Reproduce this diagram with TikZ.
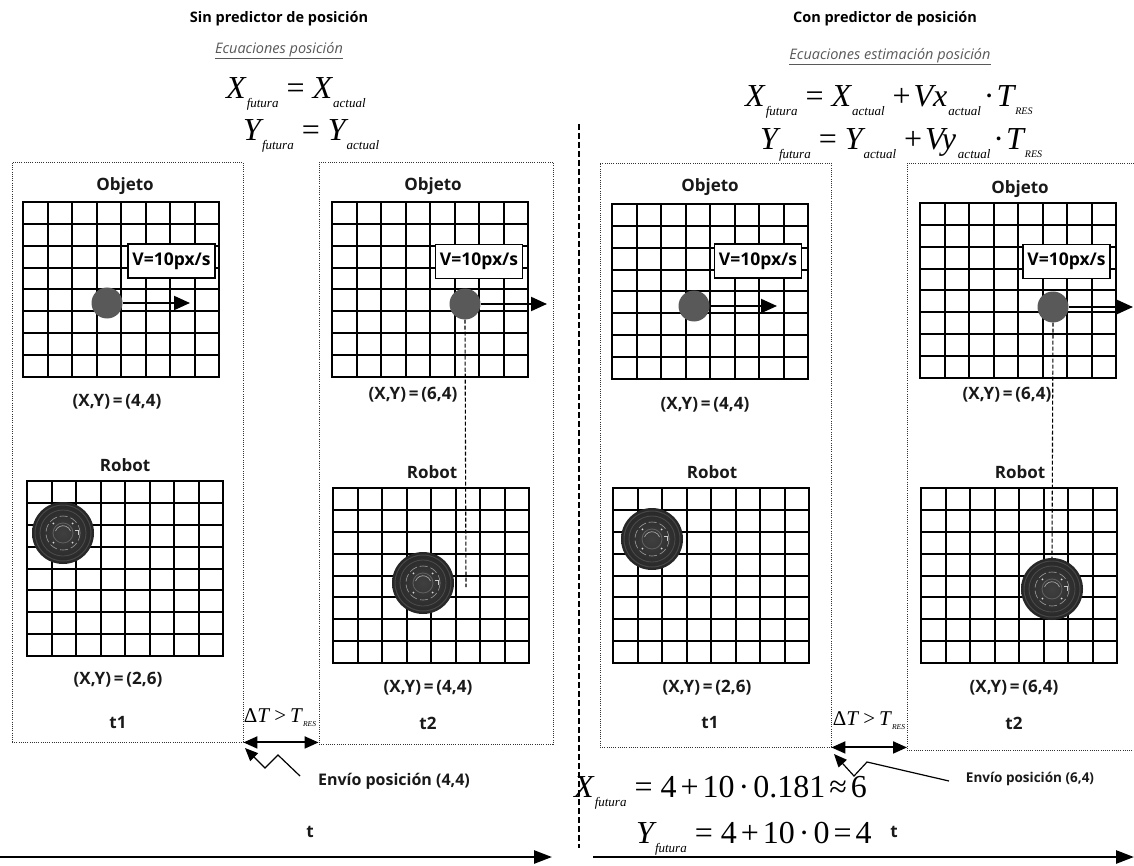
\documentclass[tikz,border=0pt]{standalone}
\usepackage{fontspec}
\setmainfont{Open Sans}
\newfontfamily\tnr{Liberation Serif}
\usetikzlibrary{arrows.meta,calc}

% equation pieces in a Times-like face
\newcommand\bv[1]{{\fontsize{32}{34}\selectfont\tnr\itshape #1}}
\newcommand\sv[1]{\hspace{1pt}\raisebox{-9pt}{\fontsize{13}{14}\selectfont\tnr\itshape #1}}
\newcommand\ov[1]{{\fontsize{32}{34}\selectfont\tnr #1}}
\newcommand\gap{\hspace{8pt}}
\newcommand\res{\hspace{1pt}\raisebox{-8pt}{\fontsize{10}{11}\selectfont\tnr\itshape RES}}
\newcommand\nsp{\hspace{4pt}}

% 8x8 grid; (x0,y0) is its top-left corner
\newcommand\cellgrid[2]{%
  \foreach \i in {1,...,7}{%
    \draw[gridline] ({#1+\i*24.5},#2) -- ++(0,175);
    \draw[gridline] (#1,{#2+\i*21.875}) -- ++(196,0);
  }%
  \draw[gridframe] (#1,#2) rectangle ++(196,175);
}

\tikzset{
  x=1pt, y=-1pt,
  gridline/.style={line width=2pt, black},
  gridframe/.style={line width=2.8pt, black},
  dotbox/.style={draw=black!80, line width=0.9pt, dash pattern=on 0.9pt off 1.3pt, rectangle, inner sep=0pt},
  lbl/.style={font=\fontsize{17}{19}\selectfont\bfseries, text=black!90, inner sep=1pt},
  title/.style={font=\fontsize{14.5}{17}\selectfont\bfseries, inner sep=1pt},
  subtitle/.style={font=\fontsize{14.5}{17}\selectfont\itshape, text=black!65, inner sep=1pt},
  vbox/.style={draw=black, line width=1.2pt, fill=white, minimum width=87pt, minimum height=34pt, inner sep=0pt, font=\fontsize{17.5}{19}\selectfont\bfseries},
  ball/.style={circle, fill=black!65, minimum size=31pt, inner sep=0pt},
  velarrow/.style={line width=2pt, -{Triangle[length=16pt,width=14pt]}},
  guide/.style={line width=1.1pt, dash pattern=on 4pt off 2pt},
  robotbody/.style={circle, minimum size=62pt, inner sep=0pt,
    shading=radial, inner color=black!75, outer color=black!85,
    path picture={
      \coordinate (pc) at (path picture bounding box.center);
      \draw[black!72, line width=1pt] (pc) circle[radius=28pt];
      \draw[black!70, line width=0.8pt] (pc) circle[radius=23pt];
      \draw[black!38, line width=0.6pt, dash pattern=on 8pt off 3pt] (pc) circle[radius=17pt];
      \draw[black!62, line width=0.8pt] (pc) circle[radius=10pt];
      \draw[black!35, line width=0.7pt] ($(pc)+(-7.5,-2)$) arc[start angle=160, end angle=20, radius=8pt];
      \foreach \a in {45,135,225,315}{\fill[white!85!black] ($(pc)+(\a:13.5pt)$) circle[radius=1pt];}
      \draw[white!80!black, line width=0.6pt] ($(pc)+(12,-3)$) -- ++(3,0) -- ++(0,5);
    }},
  dblarrow/.style={line width=2pt, {Triangle[length=14pt,width=12pt]}-{Triangle[length=14pt,width=12pt]}},
  zigarrow/.style={line width=1.2pt, -{Triangle[length=13pt,width=11pt]}},
  timearrow/.style={line width=2.6pt, -{Triangle[length=18pt,width=13pt]}},
  delta/.style={font=\fontsize{21}{22}\selectfont\tnr, inner sep=0pt},
}
\newcommand\xy[1]{(X,Y)\,=\,(#1)}

\begin{document}
\begin{tikzpicture}
\useasboundingbox[fill=white] (0,0) rectangle (1134,866);

% ---------- headings ----------
\node[title] (h1) at (279,19) {Sin predictor de posición};
\node[subtitle] (s1) at (279,51) {\underline{Ecuaciones posición}};
\node[anchor=base west, inner sep=0pt] (ex1) at (226,99) {\bv{X}\sv{futura}\gap\ov{=}\gap\bv{X}\sv{actual}};
\node[anchor=base west, inner sep=0pt] (ey1) at (243,141) {\bv{Y}\sv{futura}\gap\ov{=}\gap\bv{Y}\sv{actual}};

\node[title] (h2) at (885,19) {Con predictor de posición};
\node[subtitle] (s2) at (890,57) {\underline{Ecuaciones estimación posición}};
\node[anchor=base west, inner sep=0pt] (ex2) at (745,107) {\bv{X}\sv{futura}\gap\ov{=}\gap\bv{X}\sv{actual}\gap\ov{+}\hspace{3pt}\bv{Vx}\sv{actual}\hspace{3pt}\ov{·}\hspace{2pt}\bv{T}\res};
\node[anchor=base west, inner sep=0pt] (ey2) at (760,150) {\bv{Y}\sv{futura}\gap\ov{=}\gap\bv{Y}\sv{actual}\gap\ov{+}\hspace{3pt}\bv{Vy}\hspace{1pt}\sv{actual}\hspace{3pt}\ov{·}\hspace{2pt}\bv{T}\res};

% divider between both cases
\draw[line width=1.5pt, dash pattern=on 6pt off 3pt] (579,124) coordinate (d0) -- (579,848) coordinate (d1);

% ---------- time-frame boxes ----------
\node[dotbox, minimum width=231pt, minimum height=580pt] (b1) at (127.5,452) {};
\node[dotbox, minimum width=234pt, minimum height=582pt] (b2) at (436,453) {};
\node[dotbox, minimum width=231pt, minimum height=584pt] (b3) at (715.5,455) {};
\draw[draw=black!80, line width=0.9pt, dash pattern=on 0.9pt off 1.3pt] (1134,163) -- (907,163) coordinate (b4nw) -- (907,750) coordinate (b4sw) -- (1134,750);

% ---------- grids ----------
\cellgrid{23}{202}
\cellgrid{27}{481}
\cellgrid{332}{202}
\cellgrid{333}{488}
\cellgrid{612}{204}
\cellgrid{613}{488}
\cellgrid{920}{203}
\cellgrid{921}{488}

% ---------- labels ----------
\node[lbl] (o1) at (125,186) {Objeto};
\node[lbl] (o2) at (433,186) {Objeto};
\node[lbl] (o3) at (710,187) {Objeto};
\node[lbl] (o4) at (1020,189) {Objeto};
\node[lbl] (rl1) at (125,465) {Robot};
\node[lbl] (rl2) at (432,472) {Robot};
\node[lbl] (rl3) at (712,472) {Robot};
\node[lbl] (rl4) at (1020,472) {Robot};
\node[lbl] (po1) at (117,402) {\xy{4,4}};
\node[lbl] (po2) at (413,395) {\xy{6,4}};
\node[lbl] (po3) at (705,405) {\xy{4,4}};
\node[lbl] (po4) at (1007,395) {\xy{6,4}};
\node[lbl] (pr1) at (118,680) {\xy{2,6}};
\node[lbl] (pr2) at (428,688) {\xy{4,4}};
\node[lbl] (pr3) at (707,688) {\xy{2,6}};
\node[lbl] (pr4) at (1014,688) {\xy{6,4}};
\node[lbl] (t1a) at (118,723) {t1};
\node[lbl] (t2a) at (428,723) {t2};
\node[lbl] (t1b) at (710,723) {t1};
\node[lbl] (t2b) at (1014,723) {t2};

% ---------- velocity boxes, objects and their motion ----------
\node[vbox] (vb1) at (171.5,261) {V=10px/s};
\node[vbox] (vb2) at (479,261.5) {V=10px/s};
\node[vbox] (vb3) at (758,261) {V=10px/s};
\node[vbox] (vb4) at (1066.5,261.5) {V=10px/s};

\node[ball] (ob1) at (107,303) {};
\node[ball] (ob2) at (465,304) {};
\node[ball] (ob3) at (694,306) {};
\node[ball] (ob4) at (1053,307) {};
\coordinate (ve1) at (190,303);
\coordinate (ve2) at (547,304);
\coordinate (ve3) at (777,306);
\coordinate (ve4) at (1133,307);
\draw[velarrow] (ob1.east) -- (ve1);
\draw[velarrow] (ob2.east) -- (ve2);
\draw[velarrow] (ob3.east) -- (ve3);
\draw[velarrow] (ob4.east) -- (ve4);

% ---------- robots ----------
\node[robotbody] (rb1) at (63,533) {};
\node[robotbody] (rb2) at (423,583) {};
\node[robotbody] (rb3) at (652,539) {};
\node[robotbody] (rb4) at (1052,589) {};

\coordinate (g2) at (466,587);
\draw[guide] (ob2.south) -- (g2);
\draw[guide] (ob4.south) -- (rb4.north);

% ---------- latency between frames ----------
\node[delta] (dt1) at (280,718) {Δ\textit{T}\hspace{4pt}>\hspace{4pt}\textit{T}\raisebox{-4pt}{\fontsize{7.5}{8}\selectfont\itshape RES}};
\node[delta] (dt2) at (869,721) {Δ\textit{T}\hspace{4pt}>\hspace{4pt}\textit{T}\raisebox{-4pt}{\fontsize{7.5}{8}\selectfont\itshape RES}};
\draw[dblarrow] (b1.south east) -- (b1.south east -| b2.west);
\draw[dblarrow] (b3.south east) -- (b3.south east -| b4sw);

\node[lbl, font=\fontsize{16}{18}\selectfont\bfseries] (env1) at (394,781) {Envío posición (4,4)};
\node[lbl, font=\fontsize{13.5}{15}\selectfont\bfseries] (env2) at (1030,779) {Envío posición (6,4)};
\coordinate (za1) at (300,776);
\coordinate (zb1) at (278,755);
\coordinate (zc1) at (265,768);
\coordinate (zt1) at (245,748);
\draw[zigarrow] (za1) -- (zb1) -- (zc1) -- (zt1);
\coordinate (za2) at (949,781);
\coordinate (zb2) at (867,762);
\coordinate (zc2) at (854,776);
\coordinate (zt2) at (834,754);
\draw[zigarrow] (za2) -- (zb2) -- (zc2) -- (zt2);

% ---------- worked prediction ----------
\node[anchor=base west, inner sep=0pt] (px) at (574,797) {\bv{X}\sv{futura}\gap\ov{=}\gap\ov{4\nsp+\nsp10\nsp·\nsp0.181\nsp≈\nsp6}};
\node[anchor=base west, inner sep=0pt] (py) at (636,843) {\bv{Y}\sv{futura}\gap\ov{=}\gap\ov{4\nsp+\nsp10\nsp·\nsp0\nsp=\nsp4}};

% ---------- time axes ----------
\coordinate (ta0) at (0,857);
\coordinate (ta1) at (552,857);
\coordinate (tb0) at (593,857);
\coordinate (tb1) at (1134,857);
\draw[timearrow] (ta0) -- (ta1);
\draw[timearrow] (tb0) -- (tb1);
\node[lbl] (tla) at (310,832) {t};
\node[lbl] (tlb) at (894,832) {t};
\end{tikzpicture}
\end{document}
